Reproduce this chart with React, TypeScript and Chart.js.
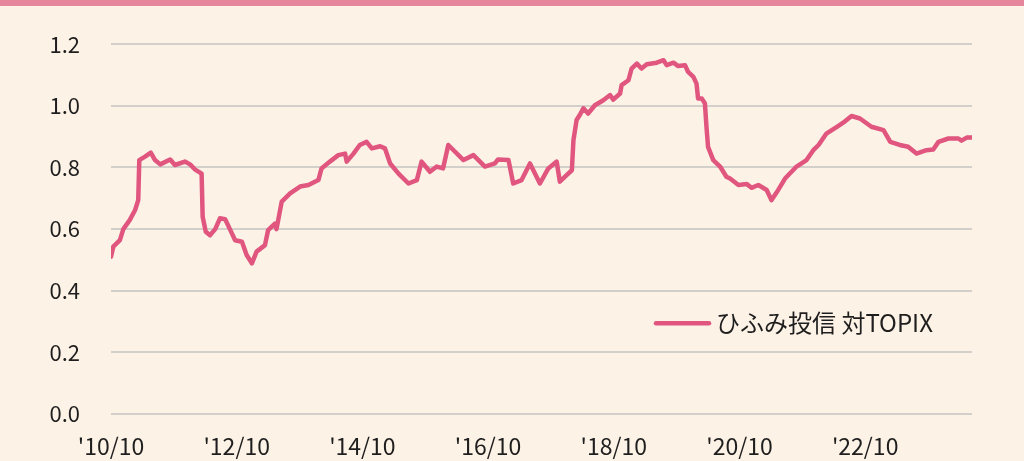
import { useEffect, useRef } from "react";
import { Chart, registerables } from "chart.js";

Chart.register(...registerables);

// Months elapsed since 2010/10 and the fund-vs-TOPIX ratio at that time
const monthOffsets = [
  0, 0.44, 1.7, 2.35, 3.6, 4.6, 5.2, 5.4, 6.5, 7.6, 8.4, 9.4, 11.3, 12.2, 14.1, 15.1, 16.0, 17.3, 17.5, 18.1,
  18.9, 19.9, 20.8, 21.8, 22.7, 23.7, 25.0, 25.9, 26.9, 27.8, 29.4, 30.0, 31.3, 31.6, 32.6, 34.2, 36.1, 37.7, 39.6, 40.2,
  41.8, 43.4, 44.7, 45.0, 46.3, 47.5, 48.8, 49.8, 51.4, 52.3, 53.3, 54.9, 56.8, 58.4, 59.3, 60.9, 62.2, 63.4, 64.4, 65.7,
  67.3, 69.2, 71.4, 73.3, 73.9, 75.9, 76.8, 78.4, 80.0, 81.9, 83.5, 85.1, 85.7, 87.0, 88.0, 88.3, 88.9, 89.5, 90.2, 91.1,
  92.4, 94.0, 95.3, 95.9, 97.2, 97.5, 98.8, 99.4, 100.4, 101.3, 102.3, 104.2, 105.5, 106.1, 107.4, 108.3, 109.6, 110.2, 111.2, 111.8,
  112.1, 112.8, 113.4, 113.7, 114.0, 115.0, 116.3, 117.5, 118.2, 119.8, 121.4, 122.3, 123.6, 125.2, 126.1, 127.4, 128.7, 130.9, 132.8, 134.1,
  135.1, 136.6, 138.6, 140.1, 141.4, 143.0, 145.2, 147.5, 148.8, 150.6, 152.2, 153.8, 155.7, 157.0, 158.0, 159.9, 161.8, 162.4, 163.4, 164.4,
];
const ratios = [
  0.51, 0.543, 0.564, 0.6, 0.63, 0.662, 0.694, 0.824, 0.835, 0.848, 0.824, 0.81, 0.826, 0.808, 0.819, 0.81, 0.794, 0.78, 0.64, 0.591,
  0.58, 0.6, 0.635, 0.632, 0.6, 0.564, 0.559, 0.516, 0.489, 0.527, 0.548, 0.597, 0.618, 0.6, 0.689, 0.716, 0.738, 0.743, 0.759, 0.797,
  0.819, 0.84, 0.845, 0.819, 0.845, 0.873, 0.883, 0.862, 0.869, 0.862, 0.813, 0.78, 0.748, 0.759, 0.819, 0.786, 0.803, 0.797, 0.873, 0.851,
  0.824, 0.84, 0.803, 0.813, 0.826, 0.824, 0.748, 0.759, 0.813, 0.748, 0.797, 0.819, 0.754, 0.775, 0.791, 0.889, 0.954, 0.97, 0.992, 0.975,
  1.002, 1.018, 1.035, 1.02, 1.04, 1.067, 1.083, 1.121, 1.137, 1.121, 1.135, 1.14, 1.148, 1.132, 1.14, 1.129, 1.132, 1.11, 1.094, 1.072,
  1.024, 1.024, 1.008, 0.932, 0.867, 0.824, 0.803, 0.77, 0.764, 0.743, 0.746, 0.734, 0.743, 0.727, 0.694, 0.727, 0.764, 0.803, 0.824, 0.856,
  0.873, 0.91, 0.932, 0.949, 0.967, 0.959, 0.932, 0.921, 0.883, 0.873, 0.867, 0.845, 0.856, 0.858, 0.883, 0.894, 0.894, 0.887, 0.897, 0.897,
];

const xTickMonths = [0, 24, 48, 72, 96, 120, 144];
const xTickLabels = ["'10/10", "'12/10", "'14/10", "'16/10", "'18/10", "'20/10", "'22/10"];
const yMin = 0;
const yMax = 1.2;
const yStep = 0.2;
const seriesLabel = "ひふみ投信 対TOPIX";

const FONT = '"Noto Sans CJK JP", "Noto Sans", sans-serif';
const LINE_COLOR = "#e0567f";
const TEXT_COLOR = "#1e1e1e";

export default function App() {
  const ref = useRef<HTMLCanvasElement>(null);

  useEffect(() => {
    document.body.style.margin = "0";
    const canvas = ref.current;
    if (!canvas) return;

    const bgPlugin = {
      id: "bg",
      beforeDraw(chart: any) {
        const { ctx, width, height } = chart;
        ctx.save();
        ctx.fillStyle = "#fdf2e6";
        ctx.fillRect(0, 0, width, height);
        ctx.fillStyle = "#e6869d";
        ctx.fillRect(0, 0, width, 6);
        ctx.restore();
      },
    };

    const legendPlugin = {
      id: "inlegend",
      afterDraw(chart: any) {
        const { ctx, chartArea } = chart;
        const ds = chart.data.datasets[0];
        const x0 = chartArea.left + 545;
        const y0 = chartArea.top + 279;
        ctx.save();
        ctx.strokeStyle = ds.borderColor;
        ctx.lineWidth = 4.5;
        ctx.lineCap = "round";
        ctx.beginPath();
        ctx.moveTo(x0, y0);
        ctx.lineTo(x0 + 53, y0);
        ctx.stroke();
        ctx.fillStyle = TEXT_COLOR;
        ctx.font = `24px ${FONT}`;
        ctx.textBaseline = "middle";
        ctx.textAlign = "left";
        ctx.fillText(ds.label, x0 + 60, y0);
        ctx.restore();
      },
    };

    const chart = new Chart(canvas, {
      type: "line",
      data: {
        datasets: [
          {
            label: seriesLabel,
            data: monthOffsets.map((m, i) => ({ x: m, y: ratios[i] })),
            borderColor: LINE_COLOR,
            borderWidth: 4.5,
            pointRadius: 0,
            tension: 0,
            borderJoinStyle: "round",
            borderCapStyle: "round",
            fill: false,
          },
        ],
      },
      options: {
        responsive: false,
        animation: false,
        layout: { padding: { top: 44, right: 52, left: 0, bottom: 0 } },
        plugins: {
          legend: { display: false },
          tooltip: { enabled: false },
        },
        scales: {
          x: {
            type: "linear",
            min: monthOffsets[0],
            max: monthOffsets[monthOffsets.length - 1],
            grid: { display: false },
            border: { display: false },
            afterBuildTicks: (s: any) => {
              s.ticks = xTickMonths.map((v) => ({ value: v }));
            },
            afterFit: (s: any) => {
              s.height = 47;
            },
            ticks: {
              autoSkip: false,
              maxRotation: 0,
              padding: 10,
              color: TEXT_COLOR,
              font: { family: FONT, size: 23 },
              callback: (v: any) => {
                const i = xTickMonths.indexOf(Number(v));
                return i >= 0 ? xTickLabels[i] : "";
              },
            },
          },
          y: {
            min: yMin,
            max: yMax,
            grid: { color: "#d3cfcb", lineWidth: 2, drawTicks: false },
            border: { display: false },
            afterFit: (s: any) => {
              s.width = 111;
            },
            ticks: {
              stepSize: yStep,
              padding: 31,
              color: TEXT_COLOR,
              font: { family: FONT, size: 22 },
              callback: (v: any) => Number(v).toFixed(1),
            },
          },
        },
      },
      plugins: [bgPlugin, legendPlugin],
    });

    return () => chart.destroy();
  }, []);

  return (
    <div style={{ width: 1024, height: 461, position: "relative" }}>
      <canvas ref={ref} width={1024} height={461} style={{ display: "block" }} />
    </div>
  );
}
